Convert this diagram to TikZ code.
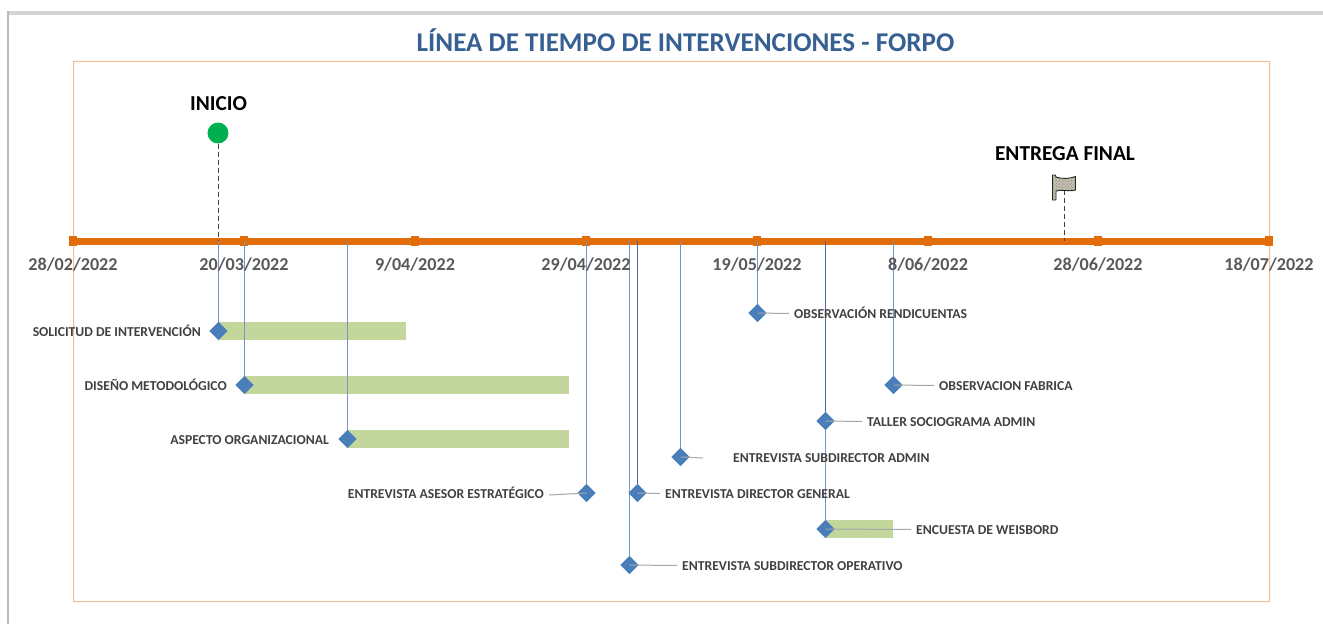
\documentclass[tikz,border=0pt]{standalone}
\usepackage{fontspec}
\setmainfont{Carlito}
\usetikzlibrary{shapes.geometric,patterns}
\definecolor{axisor}{HTML}{E36C0A}
\definecolor{boxedge}{RGB}{246,188,144}
\definecolor{stemc}{HTML}{7396C4}
\definecolor{stemd}{HTML}{4A6A9C}
\definecolor{diam}{HTML}{4A7EBB}
\definecolor{barc}{HTML}{C3D69B}
\definecolor{leadc}{HTML}{A6A6A6}
\definecolor{txtc}{HTML}{404040}
\definecolor{datec}{HTML}{595959}
\definecolor{titlec}{HTML}{376092}
\definecolor{shot}{HTML}{D4D4D4}
\definecolor{flagc}{HTML}{C8C2B0}
\definecolor{startc}{HTML}{00B050}
\tikzset{
  tickbox/.style={fill=axisor,draw=none,minimum width=8pt,minimum height=11pt,inner sep=0pt,rectangle},
  datelbl/.style={font=\bfseries\fontsize{18.2}{20}\selectfont,text=datec,inner sep=0pt,anchor=center,text height=13pt,text depth=0pt},
  tasklbl/.style={font=\bfseries\fontsize{13.7}{15}\selectfont,text=txtc,inner sep=0pt,text height=9pt,text depth=0pt},
  mslbl/.style={font=\bfseries\fontsize{21.4}{24}\selectfont,text=black,inner sep=0pt,text height=14pt,text depth=0pt},
  dmd/.style={diamond,aspect=1,fill=diam,draw=none,minimum size=18.5pt,inner sep=0pt},
  stemline/.style={draw=stemc,line width=1bp},
  stemdark/.style={draw=stemd,line width=1bp},
  leaderline/.style={draw=leadc,line width=1bp},
  barbox/.style={fill=barc,draw=none},
  dashline/.style={draw=txtc,line width=1bp,dash pattern=on 5pt off 3pt}
}
\begin{document}
\begin{tikzpicture}[x=1bp,y=-1bp]
\useasboundingbox (0,0) rectangle (1323,624);
% screenshot edge
\fill[shot] (8,11) rectangle (1323,15);
\fill[shot!70!gray] (7,11) rectangle (9,624);
% title and frame
\node[font=\bfseries\fontsize{27.2}{30}\selectfont,text=titlec,inner sep=0pt,text height=17pt,text depth=0pt] (title) at (685.5,43) {LÍNEA DE TIEMPO DE INTERVENCIONES - FORPO};
\fill[boxedge,even odd rule] (73,61) rectangle (1270,602) (74,62) rectangle (1269,601);
% bars
\fill[barbox] (219,322) rectangle (406,340);
\fill[barbox] (245,376) rectangle (569,394);
\fill[barbox] (348,430) rectangle (569,448);
\fill[barbox] (825,520) rectangle (893,538);
% axis
\node[tickbox] (t1) at (73,241) {};
\node[tickbox] (t2) at (244,241) {};
\node[tickbox] (t3) at (415,241) {};
\node[tickbox] (t4) at (586,241) {};
\node[tickbox] (t5) at (757,241) {};
\node[tickbox] (t6) at (928,241) {};
\node[tickbox] (t7) at (1098,241) {};
\node[tickbox] (t8) at (1269,241) {};
\draw[axisor,line width=7bp] (t1.center) -- (t8.center);
% stem tops on the axis
\foreach \n/\x in {a/218.5,b/244.5,c/347.5,d/586.5,e/637.5,f/680.5,g/629.5,h/757.5,i/893.5,j/825.5,k/825.5}
  \coordinate (top\n) at (\x,241);
% stem feet
\foreach \n/\x/\y in {a/218.5/331,b/244.5/385,c/347.5/439,d/586.5/493,e/637.5/493,f/680.5/457,g/629.5/565,h/757.5/313,i/893.5/385,j/825.5/421,k/825.5/529}
  \coordinate (foot\n) at (\x,\y);
\foreach \n in {a,b,c,d,f,g,h,i,k} \draw[stemline] (top\n) -- (foot\n);
\draw[stemdark] (tope) -- (foote);
\draw[stemdark] (topj) -- (footj);
% diamonds
\node[dmd] (a) at (foota) {};
\node[dmd] (b) at (footb) {};
\node[dmd] (c) at (footc) {};
\node[dmd] (d) at (footd) {};
\node[dmd] (e) at (foote) {};
\node[dmd] (f) at (footf) {};
\node[dmd] (g) at (footg) {};
\node[dmd] (h) at (footh) {};
\node[dmd] (i) at (footi) {};
\node[dmd] (j) at (footj) {};
\node[dmd] (k) at (footk) {};
% date labels
\node[datelbl] (d1) at (73,264) {28/02/2022};
\node[datelbl] (d2) at (244,264) {20/03/2022};
\node[datelbl] (d3) at (415,264) {9/04/2022};
\node[datelbl] (d4) at (586,264) {29/04/2022};
\node[datelbl] (d5) at (757,264) {19/05/2022};
\node[datelbl] (d6) at (928,264) {8/06/2022};
\node[datelbl] (d7) at (1098,264) {28/06/2022};
\node[datelbl] (d8) at (1269,264) {18/07/2022};
% leader ends
\coordinate (ed) at (549,495);
\coordinate (ee) at (660,493.5);
\coordinate (ef) at (703,458);
\coordinate (eg) at (677,565.5);
\coordinate (eh) at (789,313.5);
\coordinate (ei) at (934,385.5);
\coordinate (ej) at (862,421.5);
\coordinate (ek) at (911,529.5);
\foreach \n in {d,e,f,g,h,i,j,k} \draw[leaderline] (\n.center) -- (e\n);
% task labels
\node[tasklbl,anchor=east] (la) at (201,332) {SOLICITUD DE INTERVENCIÓN};
\node[tasklbl,anchor=east] (lb) at (227,386) {DISEÑO METODOLÓGICO};
\node[tasklbl,anchor=east] (lc) at (329,440) {ASPECTO ORGANIZACIONAL};
\node[tasklbl,anchor=east] (ld) at (544,494.5) {ENTREVISTA ASESOR ESTRATÉGICO};
\node[tasklbl,anchor=west] (le) at (665,494.5) {ENTREVISTA DIRECTOR GENERAL};
\node[tasklbl,anchor=west] (lf) at (733,458.5) {ENTREVISTA SUBDIRECTOR ADMIN};
\node[tasklbl,anchor=west] (lg) at (682,566) {ENTREVISTA SUBDIRECTOR OPERATIVO};
\node[tasklbl,anchor=west] (lh) at (794,314) {OBSERVACIÓN RENDICUENTAS};
\node[tasklbl,anchor=west] (li) at (939,386) {OBSERVACION FABRICA};
\node[tasklbl,anchor=west] (lj) at (867,422) {TALLER SOCIOGRAMA ADMIN};
\node[tasklbl,anchor=west] (lk) at (916,530) {ENCUESTA DE WEISBORD};
% milestones
\coordinate (startpt) at (218.5,241);
\node[circle,fill=startc,inner sep=0pt,minimum size=21pt] (start) at (218,133) {};
\node[mslbl] (startlbl) at (218.5,104) {INICIO};
\draw[dashline] (218.5,144) -- (startpt);
\node[mslbl] (endlbl) at (1065,153.5) {ENTREGA FINAL};
\coordinate (flagtop) at (1064.5,190);
\coordinate (flagpt) at (1064.5,241);
\draw[dashline] (flagtop) -- (flagpt);
\draw[black!85,line width=.9pt,line join=round,preaction={fill=flagc},pattern=crosshatch dots,pattern color=black!55]
  (1052.5,175) -- (1055,175) -- (1056,177) .. controls (1062,179) and (1068,179) .. (1075.5,176.5)
  -- (1075.5,190) .. controls (1068,192) and (1062,189) .. (1056,191)
  -- (1056,200) -- (1052.5,200) -- cycle;
\end{tikzpicture}
\end{document}
